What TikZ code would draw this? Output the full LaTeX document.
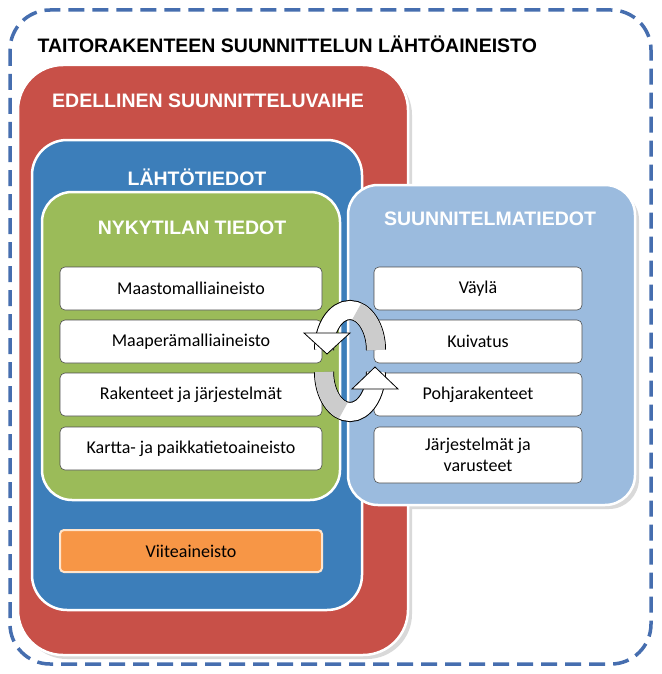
\documentclass[tikz,border=0pt]{standalone}
\usepackage{fontspec}
\setmainfont{Carlito}
\setsansfont{Liberation Sans}
\begin{document}
\begin{tikzpicture}[x=1pt,y=-1pt,
  panel/.style={draw=white,line width=2.5pt,rounded corners=#1},
  ptitle/.style={text=white,font=\sffamily\bfseries\fontsize{19.5}{21}\selectfont},
  item/.style={draw=black!70,fill=white,rounded corners=5pt,line width=0.6pt,font=\fontsize{18}{21}\selectfont,align=center,inner sep=0pt},
  band/.style={line width=20pt,draw=black},
  bandin/.style={line width=18pt,draw=#1}]
\useasboundingbox (0,0) rectangle (661,674);
\fill[white] (0,0) rectangle (661,674);
\draw[line width=3.5pt,dash pattern=on 16pt off 8pt,rounded corners=40pt,draw={rgb,255:red,70;green,110;blue,175}] (10,10) rectangle (651,664);
\node[anchor=west,font=\sffamily\bfseries\fontsize{19.5}{21}\selectfont] (title) at (34,44) {TAITORAKENTEEN SUUNNITTELUN LÄHTÖAINEISTO};
% shadows
\fill[black!15,rounded corners=45pt] (22,70) rectangle (412,659);
\fill[black!15,rounded corners=30pt] (352,190) rectangle (639,509);
\path[panel=45pt,fill={rgb,255:red,200;green,80;blue,72}] (18,65) rectangle (408,655);
\node[ptitle] (red) at (208,101) {EDELLINEN SUUNNITTELUVAIHE};
\path[panel=35pt,fill={rgb,255:red,60;green,126;blue,186}] (32,140) rectangle (362,610);
\node[ptitle] (blue) at (197,177) {LÄHTÖTIEDOT};
\path[panel=30pt,fill={rgb,255:red,155;green,187;blue,222}] (348,185) rectangle (635,505);
\node[ptitle] (lb) at (490,219) {SUUNNITELMATIEDOT};
\path[panel=30pt,fill={rgb,255:red,155;green,187;blue,89}] (42,192) rectangle (340,500);
\node[ptitle] (green) at (192,228) {NYKYTILAN TIEDOT};
\node[item,minimum width=262pt,minimum height=43pt] (l1) at (191,288.5) {Maastomalliaineisto};
\node[item,minimum width=262pt,minimum height=43pt] (l2) at (191,341.5) {Maaperämalliaineisto};
\node[item,minimum width=262pt,minimum height=43pt] (l3) at (191,394.5) {Rakenteet ja järjestelmät};
\node[item,minimum width=262pt,minimum height=43pt] (l4) at (191,448.5) {Kartta- ja paikkatietoaineisto};
\node[item,minimum width=208pt,minimum height=43pt] (r1) at (478,288.5) {Väylä};
\node[item,minimum width=208pt,minimum height=43pt] (r2) at (478,341.5) {Kuivatus};
\node[item,minimum width=208pt,minimum height=43pt] (r3) at (478,394.5) {Pohjarakenteet};
\node[item,minimum width=208pt,minimum height=56pt] (r4) at (478,455) {Järjestelmät ja\\varusteet};
\node[draw=white!80!orange,line width=2pt,fill={rgb,255:red,247;green,150;blue,70},rounded corners=4pt,minimum width=262pt,minimum height=42pt,font=\fontsize{18}{21}\selectfont] (ref) at (191,551) {Viiteaineisto};
% cycle arrows
\draw[band] (376,350) arc[start angle=0,end angle=-180,x radius=26,y radius=40];
\draw[bandin=white] (376,350) arc[start angle=0,end angle=-180,x radius=26,y radius=40];
\draw[bandin=black!20] (376,350) arc[start angle=0,end angle=-75,x radius=26,y radius=40];
\draw[fill=white,line width=0.8pt] (304,333) -- (350,333) -- (327,354) -- cycle;
\draw[band] (324,372) arc[start angle=180,end angle=0,x radius=26,y radius=40];
\draw[bandin=white] (324,372) arc[start angle=180,end angle=0,x radius=26,y radius=40];
\draw[bandin=black!20] (324,372) arc[start angle=180,end angle=105,x radius=26,y radius=40];
\draw[fill=white,line width=0.8pt] (352,389) -- (398,389) -- (375,367) -- cycle;
\end{tikzpicture}
\end{document}
